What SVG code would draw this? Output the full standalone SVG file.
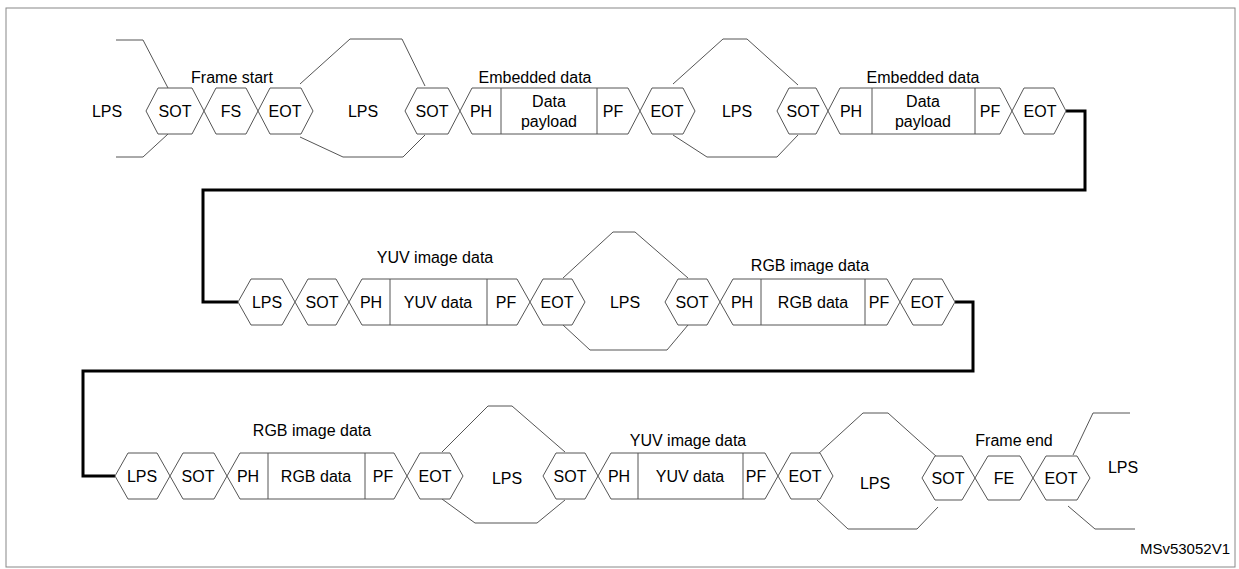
<svg xmlns="http://www.w3.org/2000/svg" width="1239" height="569" viewBox="0 0 1239 569">
<style>
.s{fill:#fff;stroke:#555;stroke-width:1}
.l{fill:none;stroke:#555;stroke-width:1}
.c{fill:none;stroke:#000;stroke-width:3}
text{font-family:"Liberation Sans",Arial,sans-serif;font-size:16px;fill:#000;text-anchor:middle;dominant-baseline:central}
</style>
<rect x="0" y="0" width="1239" height="569" fill="#fff"/>
<rect x="6" y="8" width="1229" height="559" fill="none" stroke="#888" stroke-width="1"/>
<g id="connectors">
<path class="c" d="M1066 111H1085V190H203V302H238"/>
<path class="c" d="M955 302H973V371H83V476H115"/>
<path class="l" d="M116 40H143L168 88M168 134L143 157H116"/>
<path class="l" d="M300 84L350 39H402L425 86M300 137L343 157H403L425 135"/>
<path class="l" d="M673 84L723 39H747L798 85M673 135L707 157H777L798 135"/>
<path class="l" d="M563 278L613 232H635L688 278M563 325L590 350H667L688 325"/>
<path class="l" d="M442 452L488 406H512L565 452M442 499L475 523H537L565 500"/>
<path class="l" d="M817 455L863 413H888L937 457M817 500L848 529H917L938 507"/>
<path class="l" d="M1073 455L1093 413H1130M1068 506L1095 529H1135"/>
</g>
<g id="labels">
<text x="107" y="111">LPS</text>
<text x="232" y="77">Frame start</text>
<text x="363" y="111">LPS</text>
<text x="535" y="77">Embedded data</text>
<text x="737" y="111">LPS</text>
<text x="923" y="77">Embedded data</text>
<text x="435" y="257">YUV image data</text>
<text x="625" y="302">LPS</text>
<text x="810" y="265">RGB image data</text>
<text x="312" y="430">RGB image data</text>
<text x="507" y="478">LPS</text>
<text x="688" y="440">YUV image data</text>
<text x="875" y="483">LPS</text>
<text x="1014" y="440">Frame end</text>
<text x="1123" y="467">LPS</text>
<text x="1230" y="548" style="text-anchor:end;font-size:15px">MSv53052V1</text>
</g>
<g id="r1-sot1"><path class="s" d="M146 111L158 88H192L204 111L192 134H158Z"/><text x="175" y="111">SOT</text></g>
<g id="r1-fs"><path class="s" d="M204 111L216 88H246L258 111L246 134H216Z"/><text x="231" y="111">FS</text></g>
<g id="r1-eot1"><path class="s" d="M258 111L270 88H301L313 111L301 134H270Z"/><text x="285" y="111">EOT</text></g>
<g id="r1-sot2"><path class="s" d="M405 111L417 88H448L460 111L448 134H417Z"/><text x="432" y="111">SOT</text></g>
<g id="r1-pkt1"><path class="s" d="M460 111L472 88H628L640 111L628 134H472Z"/><path class="l" d="M501 88V134M597 88V134"/>
<text x="481" y="111">PH</text><text x="549" y="101">Data</text><text x="549" y="121">payload</text><text x="613" y="111">PF</text></g>
<g id="r1-eot2"><path class="s" d="M640 111L652 88H683L695 111L683 134H652Z"/><text x="667" y="111">EOT</text></g>
<g id="r1-sot3"><path class="s" d="M777 111L789 88H816L828 111L816 134H789Z"/><text x="803" y="111">SOT</text></g>
<g id="r1-pkt2"><path class="s" d="M828 111L840 88H1000L1012 111L1000 134H840Z"/><path class="l" d="M872 88V134M975 88V134"/>
<text x="851" y="111">PH</text><text x="923" y="101">Data</text><text x="923" y="121">payload</text><text x="990" y="111">PF</text></g>
<g id="r1-eot3"><path class="s" d="M1012 111L1024 88H1054L1066 111L1054 134H1024Z"/><text x="1040" y="111">EOT</text></g>
<g id="r2-lps"><path class="s" d="M238 302L251 279H282L295 302L282 325H251Z"/><text x="267" y="302">LPS</text></g>
<g id="r2-sot1"><path class="s" d="M295 302L308 279H336L349 302L336 325H308Z"/><text x="322" y="302">SOT</text></g>
<g id="r2-pkt1"><path class="s" d="M349 302L362 279H517L530 302L517 325H362Z"/><path class="l" d="M390 279V325M487 279V325"/>
<text x="371" y="302">PH</text><text x="438" y="302">YUV data</text><text x="506" y="302">PF</text></g>
<g id="r2-eot1"><path class="s" d="M530 302L543 279H572L585 302L572 325H543Z"/><text x="557" y="302">EOT</text></g>
<g id="r2-sot2"><path class="s" d="M665 302L678 279H707L720 302L707 325H678Z"/><text x="692" y="302">SOT</text></g>
<g id="r2-pkt2"><path class="s" d="M720 302L733 279H887L900 302L887 325H733Z"/><path class="l" d="M761 279V325M865 279V325"/>
<text x="742" y="302">PH</text><text x="813" y="302">RGB data</text><text x="879" y="302">PF</text></g>
<g id="r2-eot2"><path class="s" d="M900 302L913 279H942L955 302L942 325H913Z"/><text x="927" y="302">EOT</text></g>
<g id="r3-lps"><path class="s" d="M115 476L128 453H157L170 476L157 499H128Z"/><text x="142" y="476">LPS</text></g>
<g id="r3-sot1"><path class="s" d="M170 476L183 453H214L227 476L214 499H183Z"/><text x="198" y="476">SOT</text></g>
<g id="r3-pkt1"><path class="s" d="M227 476L240 453H394L407 476L394 499H240Z"/><path class="l" d="M268 453V499M365 453V499"/>
<text x="248" y="476">PH</text><text x="316" y="476">RGB  data</text><text x="383" y="476">PF</text></g>
<g id="r3-eot1"><path class="s" d="M407 476L420 453H450L463 476L450 499H420Z"/><text x="435" y="476">EOT</text></g>
<g id="r3-sot2"><path class="s" d="M543 476L556 453H585L598 476L585 499H556Z"/><text x="570" y="476">SOT</text></g>
<g id="r3-pkt2"><path class="s" d="M598 476L611 453H765L778 476L765 499H611Z"/><path class="l" d="M638 453V499M743 453V499"/>
<text x="619" y="476">PH</text><text x="690" y="476">YUV data</text><text x="756" y="476">PF</text></g>
<g id="r3-eot2"><path class="s" d="M778 476L791 453H820L833 476L820 499H791Z"/><text x="805" y="476">EOT</text></g>
<g id="r3-sot3"><path class="s" d="M922 478L935 456H962L975 478L962 500H935Z"/><text x="948" y="478">SOT</text></g>
<g id="r3-fe"><path class="s" d="M975 478L988 456H1020L1033 478L1020 500H988Z"/><text x="1004" y="478">FE</text></g>
<g id="r3-eot3"><path class="s" d="M1033 478L1046 456H1077L1090 478L1077 500H1046Z"/><text x="1061" y="478">EOT</text></g>
</svg>
